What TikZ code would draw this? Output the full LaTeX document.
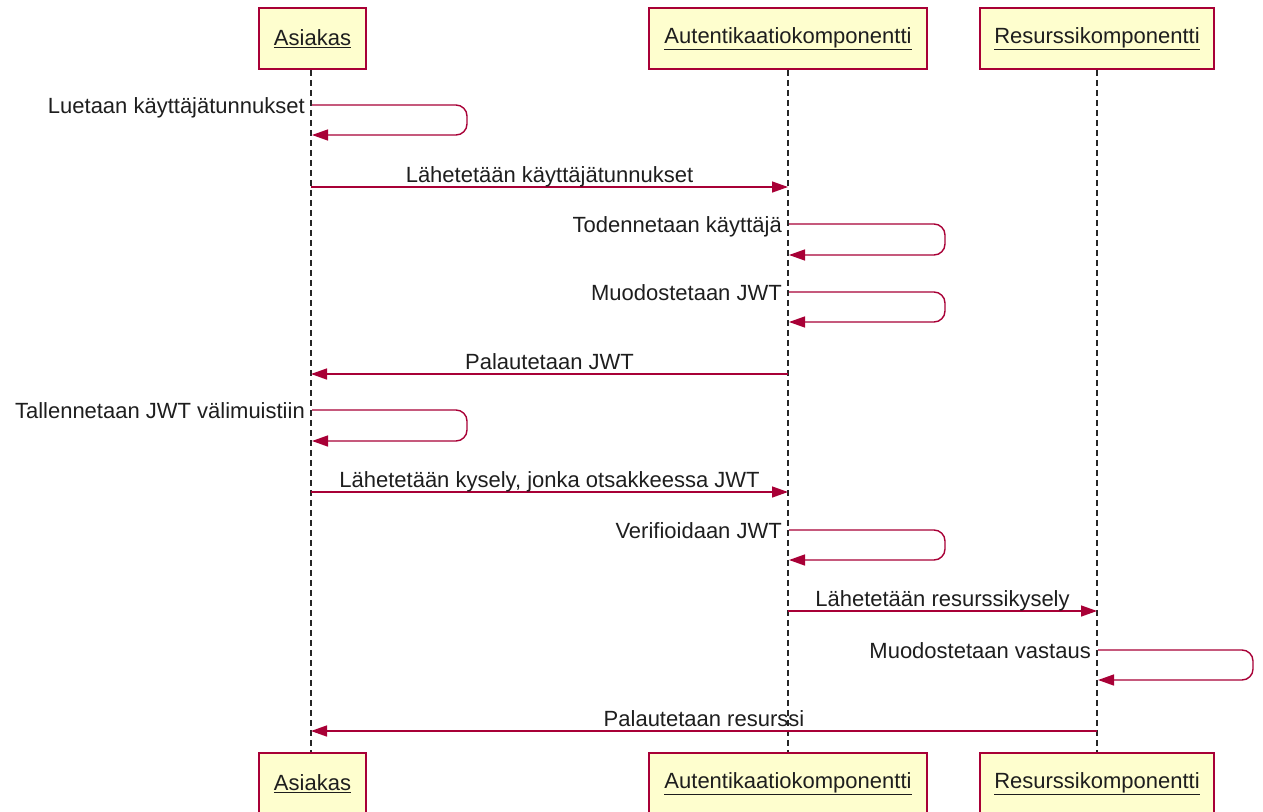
\documentclass[tikz,border=0pt]{standalone}
\usepackage{fontspec}
\setmainfont{Liberation Sans}
\usetikzlibrary{arrows.meta,calc}
\definecolor{umlred}{HTML}{A80036}
\definecolor{umlfill}{HTML}{FEFECE}
\definecolor{umltext}{HTML}{1E1E1E}
\tikzset{
  participant/.style={draw=umlred, fill=umlfill, line width=1.6pt, text=umltext,
    minimum height=61pt, inner sep=0pt, font=\fontsize{22}{26}\selectfont},
  lifeline/.style={draw=black!85, line width=1.2pt, dash pattern=on 6pt off 4pt},
  msg/.style={draw=umlred, line width=1.4pt,
    -{Triangle[length=16pt,width=11pt]}},
  selfmsg/.style={msg, rounded corners=11pt},
  msglabel/.style={font=\fontsize{22}{26}\selectfont, inner sep=0pt, text=umltext}
}
\begin{document}
\begin{tikzpicture}[x=1pt,y=-1pt]
\useasboundingbox (0,0) rectangle (1263,811);

% participants, top and bottom
\node[participant, minimum width=107pt] (a1) at (312.5,38.5) {\underline{Asiakas}};
\node[participant, minimum width=278pt] (b1) at (788,38.5) {\underline{Autentikaatiokomponentti}};
\node[participant, minimum width=234pt] (c1) at (1097,38.5) {\underline{Resurssikomponentti}};
\node[participant, minimum width=107pt] (a2) at (312.5,783.5) {\underline{Asiakas}};
\node[participant, minimum width=278pt] (b2) at (788,783.5) {\underline{Autentikaatiokomponentti}};
\node[participant, minimum width=234pt] (c2) at (1097,783.5) {\underline{Resurssikomponentti}};

% lifelines
\coordinate (la) at (311,0);
\coordinate (lb) at (788,0);
\coordinate (lc) at (1097,0);
\draw[lifeline] (la |- a1.south) -- (la |- a2.north);
\draw[lifeline] (lb |- b1.south) -- (lb |- b2.north);
\draw[lifeline] (lc |- c1.south) -- (lc |- c2.north);

% 1: self message on Asiakas
\coordinate (m1o) at (312,105);
\coordinate (m1i) at (312,135);
\draw[selfmsg] (m1o) -- (467,105) -- (467,135) -- (m1i);
\node[msglabel, anchor=base east] (t1) at (305,113) {Luetaan käyttäjätunnukset};

% 2: Asiakas -> Autentikaatio
\coordinate (m2a) at (311,187);
\coordinate (m2b) at (788,187);
\draw[msg] (m2a) -- (m2b);
\node[msglabel, anchor=base] (t2) at ($(m2a)!0.5!(m2b)+(0,-5)$) {Lähetetään käyttäjätunnukset};

% 3: self message on Autentikaatio
\coordinate (m3o) at (789,224);
\coordinate (m3i) at (789,255);
\draw[selfmsg] (m3o) -- (945,224) -- (945,255) -- (m3i);
\node[msglabel, anchor=base east] (t3) at (782,232) {Todennetaan käyttäjä};

% 4: self message on Autentikaatio
\coordinate (m4o) at (789,292);
\coordinate (m4i) at (789,322);
\draw[selfmsg] (m4o) -- (945,292) -- (945,322) -- (m4i);
\node[msglabel, anchor=base east] (t4) at (782,300) {Muodostetaan JWT};

% 5: Autentikaatio -> Asiakas
\coordinate (m5b) at (788,374);
\coordinate (m5a) at (311,374);
\draw[msg] (m5b) -- (m5a);
\node[msglabel, anchor=base] (t5) at ($(m5a)!0.5!(m5b)+(0,-5)$) {Palautetaan JWT};

% 6: self message on Asiakas
\coordinate (m6o) at (312,410);
\coordinate (m6i) at (312,441);
\draw[selfmsg] (m6o) -- (467,410) -- (467,441) -- (m6i);
\node[msglabel, anchor=base east] (t6) at (305,418) {Tallennetaan JWT välimuistiin};

% 7: Asiakas -> Autentikaatio
\coordinate (m7a) at (311,492);
\coordinate (m7b) at (788,492);
\draw[msg] (m7a) -- (m7b);
\node[msglabel, anchor=base] (t7) at ($(m7a)!0.5!(m7b)+(0,-5)$) {Lähetetään kysely, jonka otsakkeessa JWT};

% 8: self message on Autentikaatio
\coordinate (m8o) at (789,530);
\coordinate (m8i) at (789,560);
\draw[selfmsg] (m8o) -- (945,530) -- (945,560) -- (m8i);
\node[msglabel, anchor=base east] (t8) at (782,538) {Verifioidaan JWT};

% 9: Autentikaatio -> Resurssi
\coordinate (m9b) at (788,611);
\coordinate (m9c) at (1097,611);
\draw[msg] (m9b) -- (m9c);
\node[msglabel, anchor=base] (t9) at ($(m9b)!0.5!(m9c)+(0,-5)$) {Lähetetään resurssikysely};

% 10: self message on Resurssi
\coordinate (m10o) at (1098,650);
\coordinate (m10i) at (1098,680);
\draw[selfmsg] (m10o) -- (1253,650) -- (1253,680) -- (m10i);
\node[msglabel, anchor=base east] (t10) at (1091,658) {Muodostetaan vastaus};

% 11: Resurssi -> Asiakas
\coordinate (m11c) at (1097,731);
\coordinate (m11a) at (311,731);
\draw[msg] (m11c) -- (m11a);
\node[msglabel, anchor=base] (t11) at ($(m11a)!0.5!(m11c)+(0,-5)$) {Palautetaan resurssi};
\end{tikzpicture}
\end{document}
